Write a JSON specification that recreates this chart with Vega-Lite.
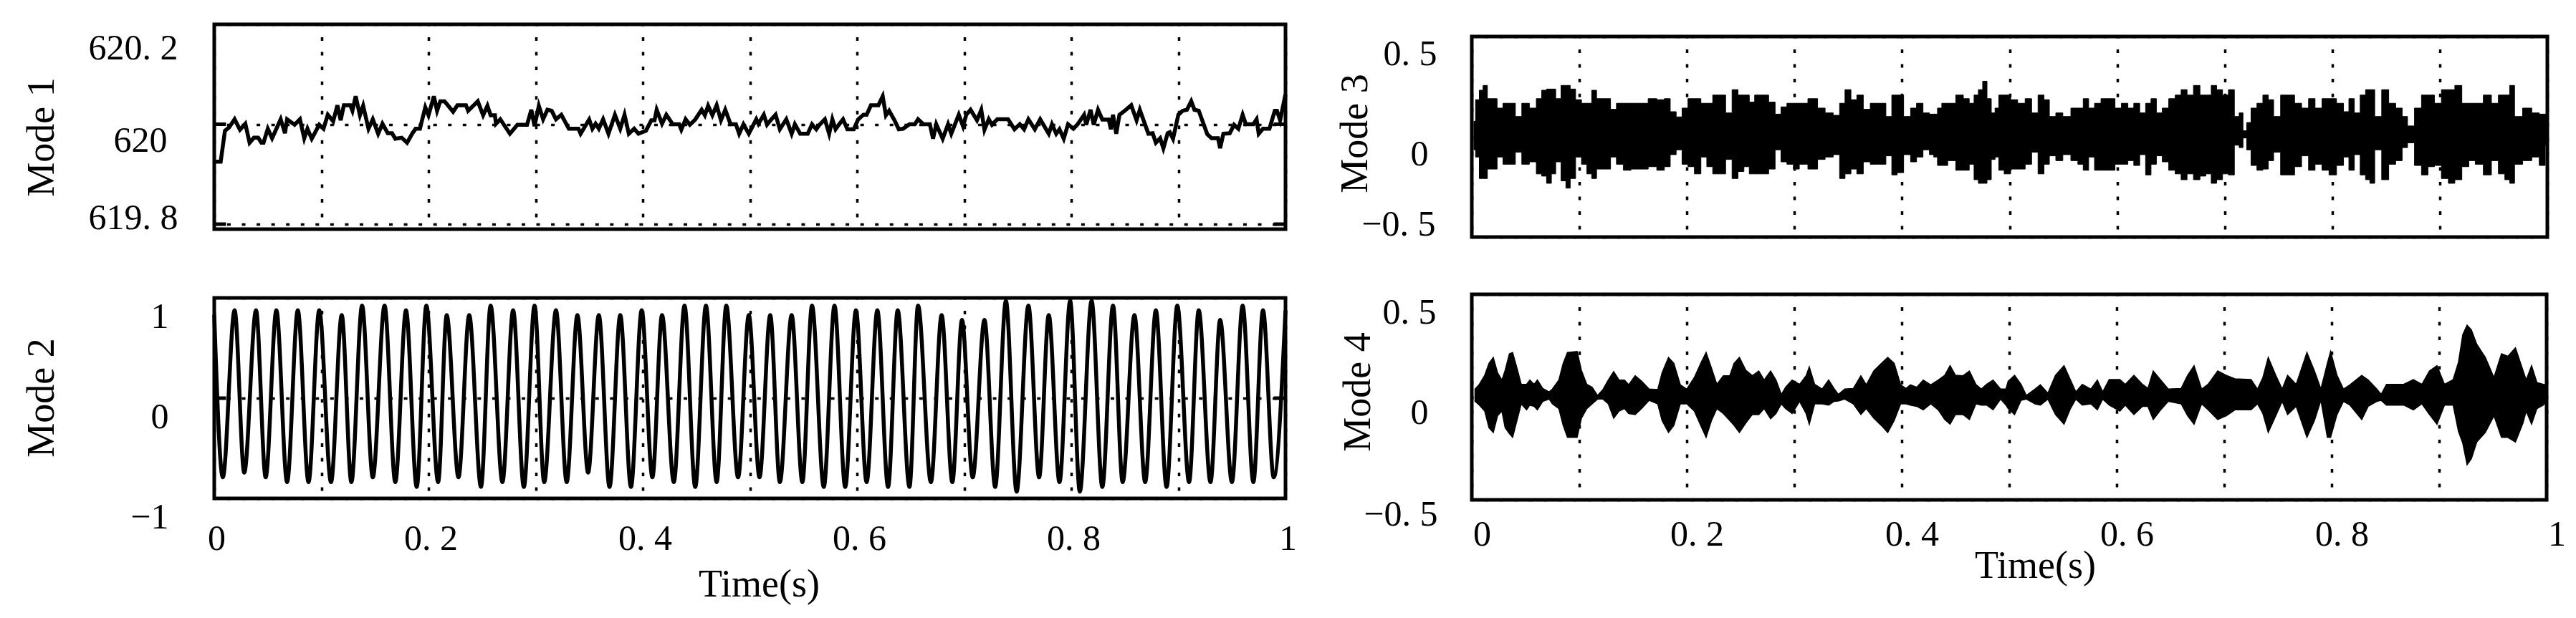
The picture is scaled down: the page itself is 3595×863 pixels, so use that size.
{
"$schema":"https://vega.github.io/schema/vega-lite/v6.json",
"background":"white",
"padding":{"left":28,"top":31,"right":5,"bottom":5},
"config":{
"view":{"stroke":"black","strokeWidth":5},
"axis":{"labelFont":"Liberation Serif","labelFontSize":50,"labelColor":"black","labelOverlap":false,"labelFlush":false,"labelBound":false,"titleFont":"Liberation Serif","titleFontSize":54,"titleFontWeight":"normal","titleColor":"black","ticks":false,"tickSize":0,"domain":false,"grid":true,"gridColor":"black","gridOpacity":1,"gridWidth":3.5,"gridDash":[5,15.55],"gridDashOffset":3.05,"titleBaseline":"alphabetic","titleAlign":"center"},
"axisY":{"labelAlign":"right","labelBaseline":"middle","titleAngle":270},
"axisX":{"labelAlign":"center","labelBaseline":"alphabetic"}
},
"datasets":{
"mode1":[{"t":0,"v":619.925},{"t":0.006,"v":619.925},{"t":0.01,"v":619.987},{"t":0.014,"v":619.994},{"t":0.019,"v":620.01},{"t":0.024,"v":619.989},{"t":0.029,"v":620.001},{"t":0.033,"v":619.963},{"t":0.037,"v":619.973},{"t":0.041,"v":619.973},{"t":0.044,"v":619.963},{"t":0.046,"v":619.963},{"t":0.05,"v":619.991},{"t":0.054,"v":619.972},{"t":0.062,"v":620.01},{"t":0.066,"v":619.982},{"t":0.068,"v":620.01},{"t":0.075,"v":619.999},{"t":0.08,"v":620.01},{"t":0.084,"v":619.972},{"t":0.087,"v":619.991},{"t":0.091,"v":619.971},{"t":0.098,"v":619.999},{"t":0.102,"v":619.991},{"t":0.106,"v":620.019},{"t":0.111,"v":620.006},{"t":0.115,"v":620.038},{"t":0.118,"v":620.008},{"t":0.121,"v":620.038},{"t":0.127,"v":620.038},{"t":0.129,"v":620.027},{"t":0.132,"v":620.056},{"t":0.136,"v":620.018},{"t":0.139,"v":620.037},{"t":0.144,"v":619.991},{"t":0.148,"v":620.01},{"t":0.153,"v":619.981},{"t":0.157,"v":620.001},{"t":0.162,"v":619.982},{"t":0.166,"v":619.982},{"t":0.169,"v":619.971},{"t":0.175,"v":619.973},{"t":0.18,"v":619.963},{"t":0.185,"v":619.982},{"t":0.188,"v":619.991},{"t":0.192,"v":619.991},{"t":0.197,"v":620.034},{"t":0.2,"v":620.018},{"t":0.205,"v":620.056},{"t":0.208,"v":620.027},{"t":0.211,"v":620.046},{"t":0.215,"v":620.046},{"t":0.223,"v":620.025},{"t":0.227,"v":620.038},{"t":0.235,"v":620.038},{"t":0.237,"v":620.027},{"t":0.246,"v":620.046},{"t":0.251,"v":620.018},{"t":0.255,"v":620.037},{"t":0.258,"v":620.018},{"t":0.262,"v":620.018},{"t":0.263,"v":620.001},{"t":0.267,"v":620.01},{"t":0.276,"v":619.981},{"t":0.283,"v":619.999},{"t":0.292,"v":619.999},{"t":0.296,"v":620.029},{"t":0.299,"v":619.996},{"t":0.303,"v":620.037},{"t":0.307,"v":620.01},{"t":0.311,"v":620.029},{"t":0.315,"v":620.027},{"t":0.319,"v":620.01},{"t":0.324,"v":620.019},{"t":0.331,"v":619.991},{"t":0.34,"v":619.991},{"t":0.342,"v":619.981},{"t":0.35,"v":620.0095},{"t":0.353,"v":619.991},{"t":0.356,"v":620.001},{"t":0.359,"v":619.991},{"t":0.363,"v":620.01},{"t":0.368,"v":619.981},{"t":0.374,"v":620.019},{"t":0.379,"v":619.991},{"t":0.383,"v":620.019},{"t":0.387,"v":619.981},{"t":0.392,"v":619.991},{"t":0.396,"v":619.981},{"t":0.403,"v":619.987},{"t":0.408,"v":620.008},{"t":0.411,"v":620.008},{"t":0.413,"v":620.029},{"t":0.418,"v":620.001},{"t":0.422,"v":620.019},{"t":0.428,"v":620},{"t":0.434,"v":620},{"t":0.436,"v":619.989},{"t":0.44,"v":620.01},{"t":0.444,"v":619.999},{"t":0.449,"v":620.0095},{"t":0.455,"v":620.029},{"t":0.458,"v":620.018},{"t":0.461,"v":620.037},{"t":0.465,"v":620.018},{"t":0.469,"v":620.038},{"t":0.473,"v":620.008},{"t":0.477,"v":620.029},{"t":0.482,"v":620},{"t":0.487,"v":620},{"t":0.49,"v":619.981},{"t":0.494,"v":620},{"t":0.499,"v":619.981},{"t":0.506,"v":620.01},{"t":0.508,"v":620.001},{"t":0.513,"v":620.019},{"t":0.516,"v":619.999},{"t":0.52,"v":620.0095},{"t":0.524,"v":620.019},{"t":0.528,"v":619.99},{"t":0.534,"v":620.01},{"t":0.539,"v":619.981},{"t":0.542,"v":620},{"t":0.547,"v":619.981},{"t":0.554,"v":619.981},{"t":0.558,"v":620},{"t":0.562,"v":619.99},{"t":0.565,"v":619.999},{"t":0.57,"v":620.01},{"t":0.574,"v":619.981},{"t":0.577,"v":620.01},{"t":0.58,"v":619.99},{"t":0.583,"v":619.999},{"t":0.587,"v":620.01},{"t":0.591,"v":619.99},{"t":0.597,"v":619.99},{"t":0.601,"v":620.0095},{"t":0.606,"v":620.019},{"t":0.609,"v":620.019},{"t":0.613,"v":620.038},{"t":0.62,"v":620.038},{"t":0.624,"v":620.056},{"t":0.627,"v":620.018},{"t":0.63,"v":620.027},{"t":0.635,"v":620.008},{"t":0.639,"v":619.99},{"t":0.643,"v":619.991},{"t":0.649,"v":620},{"t":0.654,"v":620},{"t":0.657,"v":620.01},{"t":0.662,"v":620},{"t":0.668,"v":620},{"t":0.671,"v":619.971},{"t":0.674,"v":620},{"t":0.68,"v":619.971},{"t":0.685,"v":620},{"t":0.688,"v":619.981},{"t":0.695,"v":620.019},{"t":0.699,"v":619.996},{"t":0.702,"v":620.019},{"t":0.706,"v":620.029},{"t":0.712,"v":620.008},{"t":0.716,"v":620.029},{"t":0.719,"v":619.989},{"t":0.723,"v":620.01},{"t":0.726,"v":619.999},{"t":0.731,"v":620.01},{"t":0.741,"v":620.01},{"t":0.747,"v":619.99},{"t":0.752,"v":620},{"t":0.756,"v":619.99},{"t":0.76,"v":620.01},{"t":0.766,"v":619.99},{"t":0.771,"v":620.01},{"t":0.779,"v":619.981},{"t":0.782,"v":620},{"t":0.786,"v":619.981},{"t":0.789,"v":619.99},{"t":0.793,"v":619.971},{"t":0.797,"v":620},{"t":0.802,"v":619.991},{"t":0.806,"v":620},{"t":0.812,"v":620.019},{"t":0.814,"v":619.999},{"t":0.818,"v":620.029},{"t":0.821,"v":619.999},{"t":0.825,"v":620.029},{"t":0.829,"v":620.0095},{"t":0.835,"v":620.0095},{"t":0.837,"v":619.99},{"t":0.839,"v":620.019},{"t":0.842,"v":619.981},{"t":0.845,"v":620.019},{"t":0.85,"v":620.027},{"t":0.856,"v":620.038},{"t":0.861,"v":620.008},{"t":0.864,"v":620.029},{"t":0.869,"v":619.999},{"t":0.872,"v":619.981},{"t":0.876,"v":619.982},{"t":0.879,"v":619.963},{"t":0.883,"v":619.972},{"t":0.886,"v":619.952},{"t":0.89,"v":619.982},{"t":0.892,"v":619.984},{"t":0.895,"v":619.971},{"t":0.9,"v":620.019},{"t":0.904,"v":620.027},{"t":0.908,"v":620.029},{"t":0.912,"v":620.046},{"t":0.915,"v":620.029},{"t":0.919,"v":620.027},{"t":0.927,"v":619.98},{"t":0.931,"v":619.972},{"t":0.937,"v":619.972},{"t":0.939,"v":619.952},{"t":0.942,"v":619.981},{"t":0.948,"v":619.982},{"t":0.952,"v":619.999},{"t":0.956,"v":619.991},{"t":0.96,"v":620.019},{"t":0.963,"v":620},{"t":0.97,"v":620},{"t":0.973,"v":620.01},{"t":0.975,"v":619.981},{"t":0.979,"v":619.991},{"t":0.985,"v":619.991},{"t":0.99,"v":620.027},{"t":0.992,"v":620.027},{"t":0.995,"v":620.008},{"t":1,"v":620.06}],
"mode1ticks":[{"t":0,"t2":0.011,"v":620},{"t":0,"t2":0.011,"v":619.8},{"t":0.989,"t2":1,"v":620},{"t":0.989,"t2":1,"v":619.8}],
"mode2":[{"t":0,"v":0.829},{"t":0.008,"v":-0.79},{"t":0.019,"v":0.876},{"t":0.028,"v":-0.743},{"t":0.039,"v":0.876},{"t":0.048,"v":-0.79},{"t":0.058,"v":0.876},{"t":0.068,"v":-0.838},{"t":0.078,"v":0.876},{"t":0.088,"v":-0.838},{"t":0.098,"v":0.876},{"t":0.109,"v":-0.838},{"t":0.119,"v":0.829},{"t":0.128,"v":-0.838},{"t":0.138,"v":0.924},{"t":0.148,"v":-0.79},{"t":0.159,"v":0.924},{"t":0.169,"v":-0.838},{"t":0.179,"v":0.876},{"t":0.189,"v":-0.886},{"t":0.198,"v":0.924},{"t":0.209,"v":-0.838},{"t":0.217,"v":0.829},{"t":0.228,"v":-0.79},{"t":0.238,"v":0.829},{"t":0.249,"v":-0.886},{"t":0.258,"v":0.924},{"t":0.269,"v":-0.838},{"t":0.279,"v":0.876},{"t":0.289,"v":-0.886},{"t":0.299,"v":0.924},{"t":0.308,"v":-0.838},{"t":0.319,"v":0.876},{"t":0.329,"v":-0.838},{"t":0.339,"v":0.829},{"t":0.349,"v":-0.743},{"t":0.359,"v":0.829},{"t":0.369,"v":-0.886},{"t":0.379,"v":0.829},{"t":0.389,"v":-0.886},{"t":0.399,"v":0.876},{"t":0.409,"v":-0.79},{"t":0.418,"v":0.829},{"t":0.429,"v":-0.838},{"t":0.439,"v":0.924},{"t":0.449,"v":-0.886},{"t":0.459,"v":0.924},{"t":0.469,"v":-0.838},{"t":0.478,"v":0.924},{"t":0.489,"v":-0.79},{"t":0.499,"v":0.829},{"t":0.509,"v":-0.79},{"t":0.519,"v":0.829},{"t":0.528,"v":-0.838},{"t":0.539,"v":0.829},{"t":0.549,"v":-0.838},{"t":0.558,"v":0.924},{"t":0.569,"v":-0.886},{"t":0.579,"v":0.924},{"t":0.589,"v":-0.886},{"t":0.599,"v":0.876},{"t":0.609,"v":-0.838},{"t":0.619,"v":0.876},{"t":0.629,"v":-0.886},{"t":0.638,"v":0.876},{"t":0.649,"v":-0.886},{"t":0.657,"v":0.924},{"t":0.669,"v":-0.838},{"t":0.679,"v":0.829},{"t":0.689,"v":-0.838},{"t":0.698,"v":0.781},{"t":0.708,"v":-0.79},{"t":0.719,"v":0.781},{"t":0.729,"v":-0.886},{"t":0.739,"v":0.971},{"t":0.749,"v":-0.933},{"t":0.76,"v":0.924},{"t":0.77,"v":-0.79},{"t":0.779,"v":0.829},{"t":0.789,"v":-0.838},{"t":0.799,"v":0.971},{"t":0.808,"v":-0.933},{"t":0.819,"v":0.971},{"t":0.829,"v":-0.886},{"t":0.839,"v":0.924},{"t":0.848,"v":-0.838},{"t":0.859,"v":0.829},{"t":0.869,"v":-0.838},{"t":0.879,"v":0.876},{"t":0.889,"v":-0.886},{"t":0.899,"v":0.924},{"t":0.91,"v":-0.838},{"t":0.919,"v":0.876},{"t":0.93,"v":-0.838},{"t":0.939,"v":0.781},{"t":0.95,"v":-0.838},{"t":0.96,"v":0.924},{"t":0.97,"v":-0.838},{"t":0.979,"v":0.876},{"t":0.989,"v":-0.79},{"t":1,"v":0.876}],
"mode2ticks":[{"t":0,"t2":0.011,"v":0},{"t":0.989,"t2":1,"v":0}],
"mode3":[{"t":0.002,"hi":0.077,"lo":-0.065},{"t":0.005,"hi":0.185,"lo":-0.101},{"t":0.009,"hi":0.232,"lo":-0.208},{"t":0.012,"hi":0.256,"lo":-0.208},{"t":0.017,"hi":0.19,"lo":-0.161},{"t":0.021,"hi":0.19,"lo":-0.161},{"t":0.026,"hi":0.143,"lo":-0.101},{"t":0.032,"hi":0.167,"lo":-0.137},{"t":0.038,"hi":0.167,"lo":-0.137},{"t":0.043,"hi":0.101,"lo":-0.077},{"t":0.05,"hi":0.167,"lo":-0.137},{"t":0.057,"hi":0.143,"lo":-0.125},{"t":0.063,"hi":0.19,"lo":-0.185},{"t":0.067,"hi":0.232,"lo":-0.196},{"t":0.072,"hi":0.238,"lo":-0.232},{"t":0.076,"hi":0.238,"lo":-0.185},{"t":0.08,"hi":0.19,"lo":-0.125},{"t":0.086,"hi":0.256,"lo":-0.22},{"t":0.089,"hi":0.256,"lo":-0.256},{"t":0.094,"hi":0.238,"lo":-0.208},{"t":0.099,"hi":0.185,"lo":-0.101},{"t":0.105,"hi":0.167,"lo":-0.137},{"t":0.109,"hi":0.167,"lo":-0.185},{"t":0.114,"hi":0.232,"lo":-0.208},{"t":0.118,"hi":0.19,"lo":-0.161},{"t":0.126,"hi":0.19,"lo":-0.161},{"t":0.132,"hi":0.137,"lo":-0.101},{"t":0.137,"hi":0.167,"lo":-0.137},{"t":0.145,"hi":0.167,"lo":-0.167},{"t":0.151,"hi":0.167,"lo":-0.161},{"t":0.16,"hi":0.167,"lo":-0.161},{"t":0.168,"hi":0.19,"lo":-0.149},{"t":0.176,"hi":0.185,"lo":-0.167},{"t":0.182,"hi":0.19,"lo":-0.149},{"t":0.187,"hi":0.125,"lo":-0.089},{"t":0.193,"hi":0.099,"lo":-0.065},{"t":0.198,"hi":0.143,"lo":-0.137},{"t":0.204,"hi":0.19,"lo":-0.149},{"t":0.21,"hi":0.19,"lo":-0.185},{"t":0.216,"hi":0.167,"lo":-0.101},{"t":0.221,"hi":0.167,"lo":-0.149},{"t":0.227,"hi":0.208,"lo":-0.185},{"t":0.233,"hi":0.208,"lo":-0.185},{"t":0.239,"hi":0.119,"lo":-0.113},{"t":0.245,"hi":0.235,"lo":-0.208},{"t":0.25,"hi":0.208,"lo":-0.173},{"t":0.256,"hi":0.208,"lo":-0.149},{"t":0.26,"hi":0.173,"lo":-0.185},{"t":0.266,"hi":0.208,"lo":-0.185},{"t":0.273,"hi":0.208,"lo":-0.185},{"t":0.279,"hi":0.173,"lo":-0.161},{"t":0.285,"hi":0.113,"lo":-0.065},{"t":0.29,"hi":0.149,"lo":-0.125},{"t":0.296,"hi":0.167,"lo":-0.137},{"t":0.302,"hi":0.167,"lo":-0.161},{"t":0.307,"hi":0.167,"lo":-0.137},{"t":0.318,"hi":0.19,"lo":-0.161},{"t":0.325,"hi":0.143,"lo":-0.113},{"t":0.332,"hi":0.119,"lo":-0.101},{"t":0.34,"hi":0.107,"lo":-0.089},{"t":0.344,"hi":0.167,"lo":-0.208},{"t":0.35,"hi":0.235,"lo":-0.185},{"t":0.355,"hi":0.185,"lo":-0.161},{"t":0.361,"hi":0.208,"lo":-0.185},{"t":0.367,"hi":0.137,"lo":-0.125},{"t":0.374,"hi":0.167,"lo":-0.137},{"t":0.382,"hi":0.167,"lo":-0.137},{"t":0.388,"hi":0.101,"lo":-0.095},{"t":0.393,"hi":0.208,"lo":-0.19},{"t":0.398,"hi":0.208,"lo":-0.179},{"t":0.405,"hi":0.101,"lo":-0.089},{"t":0.411,"hi":0.143,"lo":-0.125},{"t":0.416,"hi":0.167,"lo":-0.101},{"t":0.423,"hi":0.119,"lo":-0.065},{"t":0.428,"hi":0.113,"lo":-0.089},{"t":0.431,"hi":0.113,"lo":-0.101},{"t":0.435,"hi":0.143,"lo":-0.143},{"t":0.439,"hi":0.167,"lo":-0.143},{"t":0.446,"hi":0.167,"lo":-0.119},{"t":0.454,"hi":0.208,"lo":-0.167},{"t":0.46,"hi":0.19,"lo":-0.167},{"t":0.465,"hi":0.167,"lo":-0.137},{"t":0.469,"hi":0.208,"lo":-0.214},{"t":0.473,"hi":0.235,"lo":-0.232},{"t":0.477,"hi":0.277,"lo":-0.232},{"t":0.481,"hi":0.19,"lo":-0.214},{"t":0.485,"hi":0.119,"lo":-0.113},{"t":0.488,"hi":0.143,"lo":-0.101},{"t":0.492,"hi":0.208,"lo":-0.167},{"t":0.498,"hi":0.208,"lo":-0.185},{"t":0.504,"hi":0.185,"lo":-0.161},{"t":0.511,"hi":0.167,"lo":-0.161},{"t":0.518,"hi":0.19,"lo":-0.137},{"t":0.523,"hi":0.119,"lo":-0.077},{"t":0.53,"hi":0.208,"lo":-0.185},{"t":0.534,"hi":0.185,"lo":-0.137},{"t":0.54,"hi":0.101,"lo":-0.095},{"t":0.546,"hi":0.119,"lo":-0.119},{"t":0.553,"hi":0.101,"lo":-0.089},{"t":0.561,"hi":0.143,"lo":-0.119},{"t":0.566,"hi":0.143,"lo":-0.137},{"t":0.571,"hi":0.19,"lo":-0.167},{"t":0.576,"hi":0.143,"lo":-0.101},{"t":0.582,"hi":0.167,"lo":-0.167},{"t":0.588,"hi":0.19,"lo":-0.167},{"t":0.595,"hi":0.19,"lo":-0.167},{"t":0.601,"hi":0.143,"lo":-0.137},{"t":0.607,"hi":0.167,"lo":-0.137},{"t":0.613,"hi":0.143,"lo":-0.119},{"t":0.618,"hi":0.167,"lo":-0.143},{"t":0.624,"hi":0.119,"lo":-0.089},{"t":0.629,"hi":0.167,"lo":-0.19},{"t":0.634,"hi":0.19,"lo":-0.137},{"t":0.639,"hi":0.119,"lo":-0.095},{"t":0.645,"hi":0.143,"lo":-0.125},{"t":0.651,"hi":0.19,"lo":-0.167},{"t":0.657,"hi":0.208,"lo":-0.185},{"t":0.662,"hi":0.235,"lo":-0.214},{"t":0.668,"hi":0.208,"lo":-0.185},{"t":0.674,"hi":0.256,"lo":-0.214},{"t":0.68,"hi":0.208,"lo":-0.196},{"t":0.685,"hi":0.208,"lo":-0.185},{"t":0.69,"hi":0.256,"lo":-0.232},{"t":0.695,"hi":0.235,"lo":-0.214},{"t":0.701,"hi":0.208,"lo":-0.185},{"t":0.706,"hi":0.235,"lo":-0.19},{"t":0.712,"hi":0.101,"lo":-0.042},{"t":0.715,"hi":0.119,"lo":-0.054},{"t":0.719,"hi":0.03,"lo":-0.006},{"t":0.722,"hi":0.071,"lo":-0.065},{"t":0.727,"hi":0.143,"lo":-0.143},{"t":0.733,"hi":0.167,"lo":-0.167},{"t":0.738,"hi":0.208,"lo":-0.161},{"t":0.743,"hi":0.185,"lo":-0.119},{"t":0.748,"hi":0.101,"lo":-0.077},{"t":0.756,"hi":0.208,"lo":-0.19},{"t":0.762,"hi":0.208,"lo":-0.19},{"t":0.768,"hi":0.167,"lo":-0.149},{"t":0.775,"hi":0.143,"lo":-0.095},{"t":0.781,"hi":0.19,"lo":-0.167},{"t":0.787,"hi":0.143,"lo":-0.137},{"t":0.794,"hi":0.19,"lo":-0.167},{"t":0.8,"hi":0.19,"lo":-0.19},{"t":0.808,"hi":0.167,"lo":-0.143},{"t":0.813,"hi":0.125,"lo":-0.101},{"t":0.818,"hi":0.19,"lo":-0.167},{"t":0.823,"hi":0.119,"lo":-0.089},{"t":0.829,"hi":0.208,"lo":-0.19},{"t":0.833,"hi":0.235,"lo":-0.214},{"t":0.837,"hi":0.235,"lo":-0.232},{"t":0.842,"hi":0.101,"lo":-0.065},{"t":0.85,"hi":0.235,"lo":-0.214},{"t":0.855,"hi":0.167,"lo":-0.137},{"t":0.863,"hi":0.143,"lo":-0.119},{"t":0.867,"hi":0.101,"lo":-0.054},{"t":0.873,"hi":0.054,"lo":-0.03},{"t":0.88,"hi":0.143,"lo":-0.143},{"t":0.886,"hi":0.208,"lo":-0.19},{"t":0.892,"hi":0.208,"lo":-0.149},{"t":0.898,"hi":0.167,"lo":-0.143},{"t":0.905,"hi":0.235,"lo":-0.208},{"t":0.911,"hi":0.235,"lo":-0.232},{"t":0.917,"hi":0.256,"lo":-0.214},{"t":0.924,"hi":0.167,"lo":-0.149},{"t":0.93,"hi":0.167,"lo":-0.119},{"t":0.936,"hi":0.167,"lo":-0.137},{"t":0.945,"hi":0.208,"lo":-0.19},{"t":0.951,"hi":0.167,"lo":-0.119},{"t":0.958,"hi":0.208,"lo":-0.185},{"t":0.963,"hi":0.208,"lo":-0.214},{"t":0.967,"hi":0.256,"lo":-0.232},{"t":0.972,"hi":0.101,"lo":-0.137},{"t":0.982,"hi":0.143,"lo":-0.119},{"t":0.989,"hi":0.119,"lo":-0.101},{"t":0.996,"hi":0.113,"lo":-0.143},{"t":1,"hi":0.113,"lo":-0.042}],
"mode4":[{"t":0.003,"hi":0.039,"lo":-0.021},{"t":0.007,"hi":0.062,"lo":-0.039},{"t":0.012,"hi":0.106,"lo":-0.068},{"t":0.016,"hi":0.164,"lo":-0.149},{"t":0.02,"hi":0.193,"lo":-0.172},{"t":0.024,"hi":0.118,"lo":-0.091},{"t":0.028,"hi":0.083,"lo":-0.068},{"t":0.031,"hi":0.13,"lo":-0.149},{"t":0.035,"hi":0.211,"lo":-0.178},{"t":0.038,"hi":0.217,"lo":-0.196},{"t":0.042,"hi":0.141,"lo":-0.114},{"t":0.046,"hi":0.062,"lo":-0.033},{"t":0.051,"hi":0.062,"lo":-0.062},{"t":0.054,"hi":0.083,"lo":-0.039},{"t":0.058,"hi":0.062,"lo":-0.045},{"t":0.061,"hi":0.083,"lo":-0.062},{"t":0.066,"hi":0.042,"lo":-0.021},{"t":0.072,"hi":0.025,"lo":-0.01},{"t":0.075,"hi":0.039,"lo":-0.033},{"t":0.081,"hi":0.083,"lo":-0.056},{"t":0.085,"hi":0.164,"lo":-0.138},{"t":0.089,"hi":0.217,"lo":-0.196},{"t":0.098,"hi":0.222,"lo":-0.196},{"t":0.102,"hi":0.13,"lo":-0.103},{"t":0.107,"hi":0.062,"lo":-0.056},{"t":0.112,"hi":0.048,"lo":-0.033},{"t":0.117,"hi":0.008,"lo":-0.01},{"t":0.122,"hi":0.037,"lo":-0.01},{"t":0.127,"hi":0.083,"lo":-0.033},{"t":0.132,"hi":0.124,"lo":-0.103},{"t":0.137,"hi":0.083,"lo":-0.068},{"t":0.142,"hi":0.083,"lo":-0.056},{"t":0.146,"hi":0.06,"lo":-0.08},{"t":0.152,"hi":0.104,"lo":-0.085},{"t":0.158,"hi":0.077,"lo":-0.056},{"t":0.165,"hi":0.039,"lo":-0.016},{"t":0.173,"hi":0.037,"lo":-0.033},{"t":0.177,"hi":0.118,"lo":-0.114},{"t":0.183,"hi":0.193,"lo":-0.172},{"t":0.188,"hi":0.164,"lo":-0.138},{"t":0.194,"hi":0.06,"lo":-0.033},{"t":0.2,"hi":0.039,"lo":-0.033},{"t":0.207,"hi":0.095,"lo":-0.068},{"t":0.213,"hi":0.164,"lo":-0.138},{"t":0.218,"hi":0.217,"lo":-0.196},{"t":0.223,"hi":0.141,"lo":-0.114},{"t":0.228,"hi":0.062,"lo":-0.056},{"t":0.234,"hi":0.104,"lo":-0.08},{"t":0.24,"hi":0.104,"lo":-0.114},{"t":0.244,"hi":0.164,"lo":-0.138},{"t":0.249,"hi":0.193,"lo":-0.172},{"t":0.255,"hi":0.13,"lo":-0.126},{"t":0.261,"hi":0.104,"lo":-0.085},{"t":0.267,"hi":0.127,"lo":-0.085},{"t":0.272,"hi":0.083,"lo":-0.056},{"t":0.278,"hi":0.127,"lo":-0.106},{"t":0.283,"hi":0.083,"lo":-0.08},{"t":0.288,"hi":0.013,"lo":-0.033},{"t":0.292,"hi":0.048,"lo":-0.056},{"t":0.298,"hi":0.083,"lo":-0.08},{"t":0.305,"hi":0.062,"lo":-0.021},{"t":0.311,"hi":0.104,"lo":-0.08},{"t":0.314,"hi":0.147,"lo":-0.132},{"t":0.319,"hi":0.062,"lo":-0.033},{"t":0.326,"hi":0.039,"lo":-0.033},{"t":0.332,"hi":0.083,"lo":-0.039},{"t":0.337,"hi":0.042,"lo":-0.021},{"t":0.341,"hi":0.013,"lo":-0.019},{"t":0.347,"hi":0.039,"lo":-0.01},{"t":0.355,"hi":0.042,"lo":-0.033},{"t":0.362,"hi":0.104,"lo":-0.085},{"t":0.367,"hi":0.06,"lo":-0.056},{"t":0.374,"hi":0.127,"lo":-0.103},{"t":0.381,"hi":0.164,"lo":-0.138},{"t":0.387,"hi":0.193,"lo":-0.172},{"t":0.393,"hi":0.164,"lo":-0.114},{"t":0.399,"hi":0.06,"lo":-0.033},{"t":0.404,"hi":0.042,"lo":-0.033},{"t":0.408,"hi":0.06,"lo":-0.039},{"t":0.414,"hi":0.048,"lo":-0.045},{"t":0.42,"hi":0.083,"lo":-0.062},{"t":0.427,"hi":0.06,"lo":-0.033},{"t":0.434,"hi":0.083,"lo":-0.062},{"t":0.44,"hi":0.106,"lo":-0.109},{"t":0.445,"hi":0.153,"lo":-0.132},{"t":0.45,"hi":0.106,"lo":-0.085},{"t":0.457,"hi":0.104,"lo":-0.085},{"t":0.463,"hi":0.127,"lo":-0.109},{"t":0.469,"hi":0.062,"lo":-0.033},{"t":0.474,"hi":0.039,"lo":-0.039},{"t":0.479,"hi":0.062,"lo":-0.039},{"t":0.485,"hi":0.083,"lo":-0.062},{"t":0.492,"hi":0.039,"lo":-0.01},{"t":0.497,"hi":0.039,"lo":-0.039},{"t":0.499,"hi":0.077,"lo":-0.056},{"t":0.505,"hi":0.106,"lo":-0.085},{"t":0.511,"hi":0.062,"lo":-0.016},{"t":0.516,"hi":0.008,"lo":-0.01},{"t":0.524,"hi":0.039,"lo":-0.033},{"t":0.529,"hi":0.06,"lo":-0.039},{"t":0.536,"hi":0.019,"lo":-0.01},{"t":0.543,"hi":0.106,"lo":-0.085},{"t":0.551,"hi":0.153,"lo":-0.132},{"t":0.557,"hi":0.083,"lo":-0.056},{"t":0.562,"hi":0.025,"lo":-0.01},{"t":0.568,"hi":0.062,"lo":-0.039},{"t":0.576,"hi":0.039,"lo":-0.033},{"t":0.582,"hi":0.083,"lo":-0.062},{"t":0.587,"hi":0.025,"lo":-0.01},{"t":0.593,"hi":0.085,"lo":-0.039},{"t":0.603,"hi":0.085,"lo":-0.068},{"t":0.608,"hi":0.062,"lo":-0.039},{"t":0.616,"hi":0.106,"lo":-0.085},{"t":0.624,"hi":0.062,"lo":-0.045},{"t":0.629,"hi":0.042,"lo":-0.045},{"t":0.634,"hi":0.127,"lo":-0.109},{"t":0.641,"hi":0.083,"lo":-0.062},{"t":0.648,"hi":0.039,"lo":-0.021},{"t":0.66,"hi":0.042,"lo":-0.033},{"t":0.666,"hi":0.106,"lo":-0.091},{"t":0.672,"hi":0.153,"lo":-0.132},{"t":0.679,"hi":0.039,"lo":-0.033},{"t":0.685,"hi":0.062,"lo":-0.062},{"t":0.694,"hi":0.127,"lo":-0.109},{"t":0.702,"hi":0.106,"lo":-0.091},{"t":0.71,"hi":0.089,"lo":-0.062},{"t":0.725,"hi":0.085,"lo":-0.062},{"t":0.731,"hi":0.039,"lo":-0.033},{"t":0.736,"hi":0.095,"lo":-0.08},{"t":0.741,"hi":0.193,"lo":-0.172},{"t":0.748,"hi":0.106,"lo":-0.091},{"t":0.754,"hi":0.039,"lo":-0.021},{"t":0.759,"hi":0.106,"lo":-0.085},{"t":0.767,"hi":0.062,"lo":-0.045},{"t":0.777,"hi":0.217,"lo":-0.196},{"t":0.784,"hi":0.127,"lo":-0.114},{"t":0.79,"hi":0.039,"lo":-0.016},{"t":0.796,"hi":0.164,"lo":-0.196},{"t":0.799,"hi":0.222,"lo":-0.196},{"t":0.805,"hi":0.106,"lo":-0.085},{"t":0.811,"hi":0.039,"lo":-0.021},{"t":0.817,"hi":0.06,"lo":-0.039},{"t":0.828,"hi":0.106,"lo":-0.109},{"t":0.834,"hi":0.083,"lo":-0.045},{"t":0.842,"hi":0.039,"lo":-0.021},{"t":0.846,"hi":0.013,"lo":-0.016},{"t":0.851,"hi":0.062,"lo":-0.039},{"t":0.859,"hi":0.062,"lo":-0.039},{"t":0.867,"hi":0.062,"lo":-0.039},{"t":0.876,"hi":0.085,"lo":-0.062},{"t":0.884,"hi":0.062,"lo":-0.033},{"t":0.891,"hi":0.127,"lo":-0.085},{"t":0.898,"hi":0.153,"lo":-0.132},{"t":0.905,"hi":0.062,"lo":-0.039},{"t":0.913,"hi":0.085,"lo":-0.039},{"t":0.918,"hi":0.17,"lo":-0.167},{"t":0.922,"hi":0.304,"lo":-0.225},{"t":0.926,"hi":0.35,"lo":-0.329},{"t":0.93,"hi":0.327,"lo":-0.3},{"t":0.935,"hi":0.257,"lo":-0.219},{"t":0.943,"hi":0.193,"lo":-0.172},{"t":0.951,"hi":0.095,"lo":-0.091},{"t":0.958,"hi":0.211,"lo":-0.196},{"t":0.964,"hi":0.199,"lo":-0.196},{"t":0.971,"hi":0.24,"lo":-0.219},{"t":0.978,"hi":0.13,"lo":-0.126},{"t":0.981,"hi":0.083,"lo":-0.068},{"t":0.986,"hi":0.153,"lo":-0.132},{"t":0.991,"hi":0.071,"lo":-0.056},{"t":0.997,"hi":0.062,"lo":-0.039},{"t":1,"hi":0.06,"lo":-0.021}]
},
"spacing":49,
"align":"none",
"hconcat":[
{"spacing":96,"bounds":"flush","align":"none","vconcat":[
{"width":1495,"height":286,"layer":[
{"data":{"name":"mode1"},"mark":{"type":"line","color":"black","strokeWidth":5.5},
"encoding":{
"x":{"field":"t","type":"quantitative","scale":{"domain":[0,1],"nice":false,"zero":false},"axis":{"values":[0,0.1,0.2,0.3,0.4,0.5,0.6,0.7,0.8,0.9,1],"labels":false,"title":null}},
"y":{"field":"v","type":"quantitative","scale":{"domain":[619.79,620.2],"nice":false,"zero":false},"axis":{"values":[619.8,620,620.2],"title":"Mode 1","titleX":-225,"titleY":157,"labelExpr":"replace(format(datum.value,''),'.','. ')","labelOffset":{"condition":[{"test":"datum.value>620","value":33},{"test":"datum.value==620","value":23}],"value":-9},"labelPadding":{"condition":{"test":"datum.value==620","value":66},"value":51}}}}},
{"data":{"name":"mode1ticks"},"mark":{"type":"rule","color":"black","strokeWidth":5},"encoding":{"x":{"field":"t","type":"quantitative"},"x2":{"field":"t2"},"y":{"field":"v","type":"quantitative"}}}
]},
{"width":1495,"height":280,"layer":[
{"data":{"name":"mode2"},"mark":{"type":"line","color":"black","strokeWidth":5.5,"interpolate":"monotone"},
"encoding":{
"x":{"field":"t","type":"quantitative","scale":{"domain":[0,1],"nice":false,"zero":false},"axis":{"values":[0,0.1,0.2,0.3,0.4,0.5,0.6,0.7,0.8,0.9,1],"labelExpr":"round(datum.value*10)%2 ? '' : replace(format(datum.value,''),'.','. ')","labelOffset":3,"labelPadding":71,"title":"Time(s)","titleX":760,"titleY":136}},
"y":{"field":"v","type":"quantitative","scale":{"domain":[-1,1],"nice":false,"zero":false},"axis":{"values":[-1,0,1],"title":"Mode 2","titleX":-225,"titleY":139,"labelOffset":26,"labelPadding":64,"labelExpr":"format(datum.value,'')"}}}},
{"data":{"name":"mode2ticks"},"mark":{"type":"rule","color":"black","strokeWidth":5},"encoding":{"x":{"field":"t","type":"quantitative"},"x2":{"field":"t2"},"y":{"field":"v","type":"quantitative"}}}
]}
]},
{"spacing":0,"align":"none","vconcat":[
{"width":4,"height":13,"view":{"stroke":null},"data":{"values":[]},"mark":{"type":"point","opacity":0}},
{"spacing":67,"align":"none","vconcat":[
{"width":1501,"height":280,"data":{"name":"mode3"},"mark":{"type":"area","color":"black","interpolate":"step","stroke":"black","strokeWidth":1},
"encoding":{
"x":{"field":"t","type":"quantitative","scale":{"domain":[0,1],"nice":false,"zero":false},"axis":{"values":[0,0.1,0.2,0.3,0.4,0.5,0.6,0.7,0.8,0.9,1],"labels":false,"title":null}},
"y":{"field":"lo","type":"quantitative","scale":{"domain":[-0.5,0.5],"nice":false,"zero":false},"axis":{"values":[-0.5,0,0.5],"title":"Mode 3","titleX":-147,"titleY":135,"labelExpr":"replace(format(datum.value,''),'.','. ')","labelOffset":{"condition":{"test":"datum.value<0","value":-18},"value":24},"labelPadding":{"condition":[{"test":"datum.value==0","value":61},{"test":"datum.value<0","value":51}],"value":49}}},
"y2":{"field":"hi"}}},
{"width":1500,"height":287,"data":{"name":"mode4"},"mark":{"type":"area","color":"black","stroke":"black","strokeWidth":1.5},
"encoding":{
"x":{"field":"t","type":"quantitative","scale":{"domain":[0,1],"nice":false,"zero":false},"axis":{"values":[0,0.1,0.2,0.3,0.4,0.5,0.6,0.7,0.8,0.9,1],"labelExpr":"round(datum.value*10)%2 ? '' : replace(format(datum.value,''),'.','. ')","labelOffset":14,"labelPadding":63,"title":"Time(s)","titleX":786,"titleY":108}},
"y":{"field":"lo","type":"quantitative","scale":{"domain":[-0.5,0.5],"nice":false,"zero":false},"axis":{"values":[-0.5,0,0.5],"title":"Mode 4","titleX":-143,"titleY":136,"labelExpr":"replace(format(datum.value,''),'.','. ')","labelOffset":{"condition":[{"test":"datum.value<0","value":20},{"test":"datum.value==0","value":22}],"value":25},"labelPadding":{"condition":[{"test":"datum.value==0","value":61},{"test":"datum.value<0","value":48}],"value":50}}},
"y2":{"field":"hi"}}}
]}
]}
]
}
